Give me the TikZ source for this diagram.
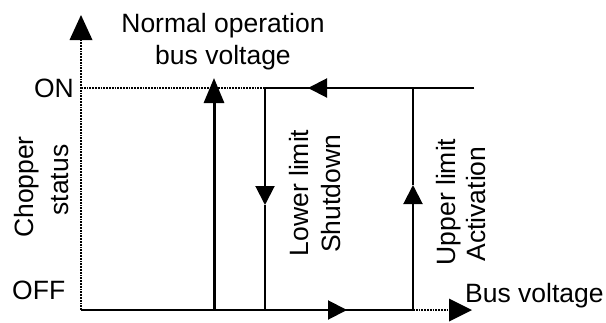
\documentclass[tikz,border=0pt]{standalone}
\usepackage{fontspec}
\setmainfont{Liberation Sans}
\usetikzlibrary{arrows.meta}
\begin{document}
\begin{tikzpicture}[x=1pt,y=-1pt,
  lbl/.style={inner sep=0pt,font=\fontsize{26.5}{32}\selectfont},
  thinln/.style={line width=2pt},
  thickln/.style={line width=3pt},
  axisln/.style={line width=1.8pt,densely dotted},
  smalltip/.style={-{Triangle[length=19pt,width=19pt]}}
]
\useasboundingbox (0,0) rectangle (606,322);
\fill[white] (0,0) rectangle (606,322);
% coordinates
\coordinate (O) at (81,310);
\coordinate (Ytop) at (81,15);
\coordinate (Yon) at (81,88);
\coordinate (Lt) at (265,88);
\coordinate (Lm) at (265,205);
\coordinate (Lb) at (265,310);
\coordinate (Ub) at (413,310);
\coordinate (Um) at (413,185);
\coordinate (Ut) at (413,88);
\coordinate (Tr) at (474,88);
\coordinate (Tm) at (308,88);
\coordinate (Bm) at (347,310);
\coordinate (Xend) at (472,310);
\coordinate (Nb) at (214,310);
\coordinate (Nt) at (214,78);
% axes
\draw[axisln] (O) -- (Ytop |- 0,40);
\fill (Ytop) -- ++(-11.5,25) -- ++(23,0) -- cycle;
\draw[axisln] (Yon) -- (Lt);
\draw[axisln] (Ub) -- (450,310);
\fill (Xend) -- ++(-23,-11.5) -- ++(0,23) -- cycle;
% hysteresis loop
\draw[thinln] (O) -- (Ub);
\draw[thinln,smalltip] (O) -- (Bm);
\draw[thinln,smalltip] (Ub) -- (Um);
\draw[thinln] (Um) -- (Ut);
\draw[thinln] (Tr) -- (Lt);
\draw[thinln,smalltip] (Tr) -- (Tm);
\draw[thinln,smalltip] (Lt) -- (Lm);
\draw[thinln] (Lm) -- (Lb);
% normal operation
\draw[thickln,-{Triangle[length=25pt,width=20pt]}] (Nb) -- (Nt);
% labels
\node[lbl,anchor=base] (n1) at (223,32) {Normal operation};
\node[lbl,anchor=base] (n2) at (223,64) {bus voltage};
\node[lbl,anchor=base east] (on) at (74,97) {ON};
\node[lbl,anchor=base west] (off) at (12,299) {OFF};
\node[lbl,anchor=base west] (bv) at (465,302) {Bus voltage};
\node[lbl,anchor=base,rotate=90] (c1) at (34,187) {Chopper};
\node[lbl,anchor=base,rotate=90] (c2) at (68,180) {status};
\node[lbl,anchor=base,rotate=90] (l1) at (308,193) {Lower limit};
\node[lbl,anchor=base,rotate=90] (l2) at (340,194) {Shutdown};
\node[lbl,anchor=base,rotate=90] (u1) at (455,202) {Upper limit};
\node[lbl,anchor=base,rotate=90] (u2) at (485,204) {Activation};
\end{tikzpicture}
\end{document}
